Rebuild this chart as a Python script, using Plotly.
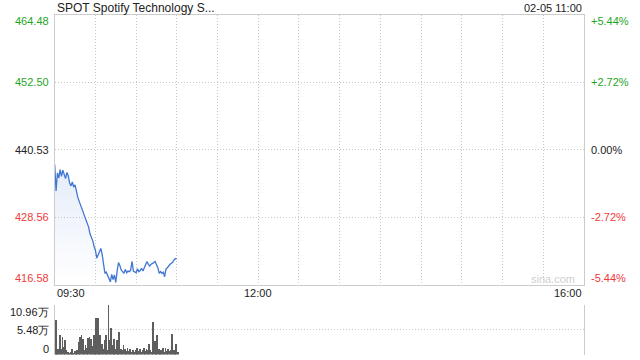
import plotly.graph_objects as go

# ---------------- data ----------------
title_text = "SPOT Spotify Technology S..."
date_text = "02-05 11:00"
prev_close = 440.53

price = [437.9, 433.2, 436.4, 435.5, 437.0, 435.8, 436.9, 436.2, 435.4, 436.5,
         435.9, 434.6, 434.1, 434.8, 433.9, 434.3, 433.0, 432.1, 431.4, 430.7,
         430.2, 429.3, 428.9, 428.0, 427.3, 426.8, 425.6, 425.0, 424.4, 423.4,
         422.7, 421.3, 421.8, 422.4, 423.0, 421.9, 420.2, 418.6, 418.8, 418.2,
         417.6, 417.1, 418.4, 417.5, 418.3, 417.0, 419.0, 420.5, 420.0, 419.2,
         418.9, 418.6, 419.3, 418.7, 419.0, 418.9, 419.2, 420.7, 419.0, 418.8,
         418.7, 419.4, 418.9, 419.1, 419.5, 419.0, 419.6, 420.1, 420.7, 420.2,
         419.9, 420.2, 420.3, 420.5, 420.7, 420.1, 419.6, 418.6, 418.9, 418.6,
         418.8, 418.0, 419.4, 419.6, 420.0, 420.2, 420.4, 420.6, 421.0, 421.2,
         421.2]

volume = [7.6, 0.9, 1.2, 4.3, 1.3, 3.9, 1.7, 3.2, 0.9, 0.5,
          0.3, 0.6, 1.2, 0.4, 0.8, 0.5, 0.9, 2.8, 3.9, 4.4,
          3.5, 0.9, 2.2, 1.5, 3.7, 3.9, 3.5, 1.8, 4.3, 4.3,
          8.0, 8.1, 1.9, 4.3, 2.4, 1.3, 3.2, 4.4, 1.1, 10.96,
          3.2, 5.8, 2.1, 3.5, 1.3, 3.2, 1.0, 4.9, 1.2, 0.9,
          2.2, 1.3, 0.8, 1.5, 0.7, 1.2, 0.6, 1.1, 0.5, 1.0,
          1.4, 0.8, 1.2, 0.6, 1.0, 1.5, 0.7, 1.3, 0.9, 2.4,
          1.0, 0.6, 7.2, 3.0, 1.2, 4.3, 1.3, 0.7, 1.0, 1.5,
          0.6, 1.5, 0.8, 1.3, 0.7, 1.1, 4.5, 1.0, 0.7, 2.4,
          0.6]

minutes = list(range(len(price)))  # minutes after 09:30

price_ticks = [464.48, 452.50, 440.53, 428.56, 416.58]
price_tick_labels = ["464.48", "452.50", "440.53", "428.56", "416.58"]
pct_tick_labels = ["+5.44%", "+2.72%", "0.00%", "-2.72%", "-5.44%"]
vol_ticks = [10.96, 5.48, 0]
vol_tick_labels = ["10.96万", "5.48万", "0"]
time_tick_pos = [0, 150, 390]
time_tick_labels = ["09:30", "12:00", "16:00"]

# ---------------- style ----------------
W, H = 640, 360
FONT = "Liberation Sans, Arial, sans-serif"
GREEN = "#1fa51f"
RED = "#f03a3a"
DARK = "#222222"
GRID = "#c8c8c8"
BORDER = "#cccccc"
LINE = "#4176d3"
DASH = "1px,2px"

x0, x1 = 54.7 / W, 584 / W
p_top, p_bot = 1 - 14.6 / H, 1 - 284.7 / H
v_top, v_bot = 1 - 305 / H, 1 - 354.5 / H

fig = go.Figure()

fig.add_trace(go.Scatter(
    x=minutes, y=price, mode="lines",
    line=dict(color=LINE, width=1.3),
    fill="tozeroy",
    fillgradient=dict(type="vertical",
                      colorscale=[[0, "rgba(65,118,211,0.0)"], [1, "rgba(65,118,211,0.14)"]],
                      start=price_ticks[-1], stop=max(price)),
    hoverinfo="skip", xaxis="x", yaxis="y",
))

fig.add_trace(go.Bar(
    x=minutes, y=volume, marker=dict(color="#5e5e5e", line=dict(width=0)),
    width=0.62, xaxis="x2", yaxis="y2", hoverinfo="skip",
))

fig.update_layout(
    width=W, height=H,
    margin=dict(l=0, r=0, t=0, b=0),
    paper_bgcolor="white", plot_bgcolor="white",
    showlegend=False,
    font=dict(family=FONT, size=11, color=DARK),
    bargap=0,
    xaxis=dict(domain=[x0, x1], range=[0, 390], tickvals=list(range(0, 391, 30)),
               showticklabels=False, showgrid=True, gridcolor=GRID, griddash=DASH,
               gridwidth=1, zeroline=False, showline=True, linecolor=BORDER,
               linewidth=1, mirror=True, anchor="y", fixedrange=True),
    yaxis=dict(domain=[p_bot, p_top], range=[price_ticks[-1], price_ticks[0]],
               tickvals=price_ticks, showticklabels=False, showgrid=True,
               gridcolor=GRID, griddash=DASH, zeroline=False, showline=True,
               linecolor=BORDER, linewidth=1, mirror=True, anchor="x"),
    xaxis2=dict(domain=[x0, x1], range=[-0.5, 390], showticklabels=False,
                showgrid=False, zeroline=False, showline=False, anchor="y2"),
    yaxis2=dict(domain=[v_bot, v_top], range=[0, vol_ticks[0]], tickvals=vol_ticks,
                showticklabels=False, showgrid=True, gridcolor=GRID, griddash=DASH,
                zeroline=False, showline=True, linecolor=BORDER, linewidth=1,
                mirror=True, anchor="x2"),
)

ann = []
ann.append(dict(text=title_text, xref="paper", yref="paper", x=55 / W, y=1 - 7.5 / H,
                xanchor="left", yanchor="middle", showarrow=False,
                font=dict(size=12, color=DARK)))
ann.append(dict(text=date_text, xref="paper", yref="paper", x=584 / W, y=1 - 7.5 / H,
                xanchor="right", yanchor="middle", showarrow=False,
                font=dict(size=11, color=DARK)))

n = len(price_ticks)
for i, (v, lab, pl) in enumerate(zip(price_ticks, price_tick_labels, pct_tick_labels)):
    if v > prev_close + 1e-9:
        col = GREEN
    elif v < prev_close - 1e-9:
        col = RED
    else:
        col = DARK
    shift = -6 if i == 0 else (7 if i == n - 1 else 0)
    ann.append(dict(text=lab, xref="paper", yref="y", x=51 / W, y=v, yshift=shift,
                    xanchor="right", yanchor="middle", showarrow=False,
                    font=dict(size=11, color=col)))
    ann.append(dict(text=pl, xref="paper", yref="y", x=589 / W, y=v, yshift=shift,
                    xanchor="left", yanchor="middle", showarrow=False,
                    font=dict(size=11, color=col)))

anchors = ["left", "center", "right"]
for pos, lab, a in zip(time_tick_pos, time_tick_labels, anchors):
    ann.append(dict(text=lab, xref="x", yref="paper", x=pos, y=1 - 293 / H,
                    xanchor=a, yanchor="middle", showarrow=False,
                    font=dict(size=11, color=DARK)))

for i, (v, lab) in enumerate(zip(vol_ticks, vol_tick_labels)):
    shift = -7 if i == 0 else (6 if i == len(vol_ticks) - 1 else 0)
    ann.append(dict(text=lab, xref="paper", yref="y2", x=51 / W, y=v, yshift=shift,
                    xanchor="right", yanchor="middle", showarrow=False,
                    font=dict(size=11, color=DARK)))

ann.append(dict(text="sina.com", xref="paper", yref="paper", x=577 / W, y=1 - 279 / H,
                xanchor="right", yanchor="middle", showarrow=False,
                font=dict(size=11, color="#cfcfcf")))

fig.update_layout(annotations=ann)

fig.write_html("out.html")
